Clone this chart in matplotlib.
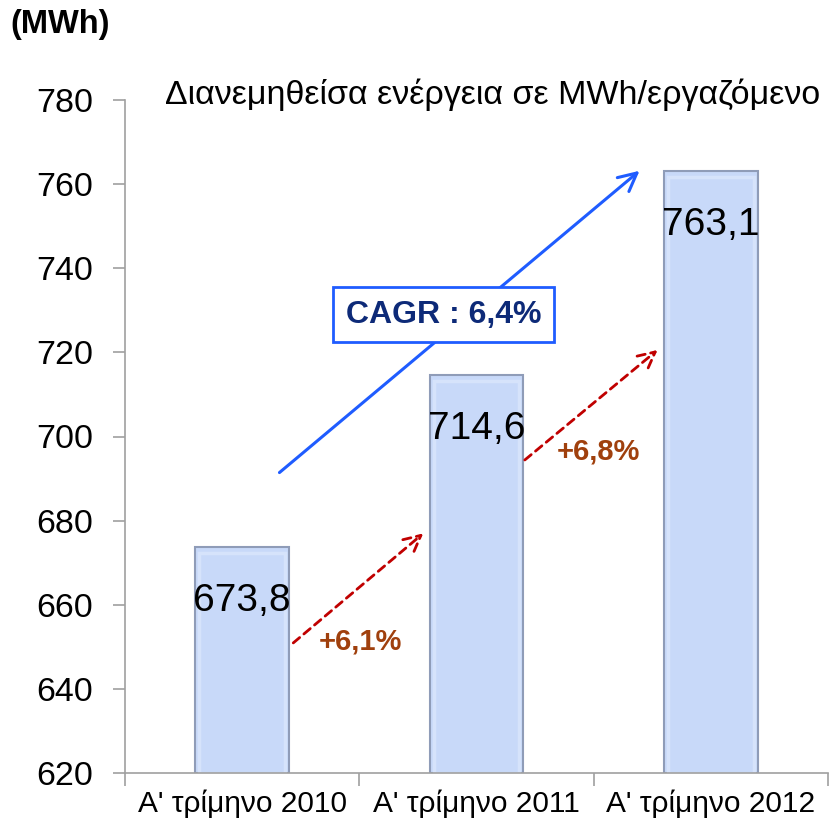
import matplotlib
matplotlib.use("Agg")
import matplotlib.pyplot as plt

plt.rcParams['font.family'] = ['Liberation Sans', 'DejaVu Sans']

# data
categories = ["Α' τρίμηνο 2010", "Α' τρίμηνο 2011", "Α' τρίμηνο 2012"]
values = [673.8, 714.6, 763.1]
value_labels = ["673,8", "714,6", "763,1"]
growth_labels = ["+6,1%", "+6,8%"]
cagr_label = "CAGR : 6,4%"
yticks = [620, 640, 660, 680, 700, 720, 740, 760, 780]

fig = plt.figure(figsize=(8.3, 8.25), dpi=100)
ax = fig.add_axes([125 / 830, 1 - 773 / 825, 703 / 830, 673 / 825])

x = list(range(len(categories)))
ax.bar(x, [v - 620 for v in values], bottom=620, width=0.40,
       color='#c8d9f9', edgecolor='#8f9cb8', linewidth=1.5, zorder=2)
# soft inner bevel
ax.bar(x, [v - 620 - 1.5 for v in values], bottom=620, width=0.365,
       color='none', edgecolor='#d6e3fb', linewidth=2.5, zorder=2)

for xi, v, lab in zip(x, values, value_labels):
    ax.annotate(lab, (xi, v), xytext=(0, -39), textcoords='offset points',
                ha='center', va='center', fontsize=28, color='black', zorder=4)

ax.set_xlim(-0.5, 2.5)
ax.set_ylim(620, 780)
ax.set_yticks(yticks)
ax.set_yticklabels([str(t) for t in yticks], fontsize=24.5)
ax.set_xticks(x)
ax.set_xticklabels(categories, fontsize=21.5)
ax.tick_params(axis='x', length=0, pad=12)
ax.set_xticks([-0.5, 0.5, 1.5, 2.5], minor=True)
ax.tick_params(axis='x', which='minor', length=9, color='#a0a0a0', width=1.2)
ax.tick_params(axis='y', length=9, color='#a0a0a0', width=1.2, pad=14)

for s in ['top', 'right']:
    ax.spines[s].set_visible(False)
for s in ['left', 'bottom']:
    ax.spines[s].set_color('#a0a0a0')
    ax.spines[s].set_linewidth(1.2)

# CAGR arrow
ax.annotate('', xy=(1.705, 763.6), xytext=(0.150, 691.0),
            arrowprops=dict(arrowstyle='->,head_length=1.3,head_width=0.65',
                            color='#1f5cff', lw=2.2), zorder=3)
ax.text(0.859, 729, cagr_label, ha='center', va='center', fontsize=23,
        fontweight='bold', color='#0d2a78', zorder=5,
        bbox=dict(boxstyle='square,pad=0.4', fc='white', ec='#1f5cff', lw=2))

# year-over-year arrows
for (x0, y0, x1, y1) in [(0.209, 650.5, 0.782, 677.4), (1.197, 694.0, 1.782, 721.0)]:
    ax.annotate('', xy=(x1, y1), xytext=(x0, y0),
                arrowprops=dict(arrowstyle='->,head_length=1.2,head_width=0.6',
                                color='#c00000', lw=2, linestyle=(0, (3, 2))),
                zorder=3)

ax.text(0.504, 651.2, growth_labels[0], ha='center', va='center', fontsize=21,
        fontweight='bold', color='#a0400d', zorder=4)
ax.text(1.521, 696.4, growth_labels[1], ha='center', va='center', fontsize=21,
        fontweight='bold', color='#a0400d', zorder=4)

fig.text(0.012, 1 - 25 / 825, "(MWh)", fontsize=23.5, fontweight='bold', va='center')
fig.text(493 / 830, 1 - 95 / 825, "Διανεμηθείσα ενέργεια σε MWh/εργαζόμενο",
         fontsize=24.5, ha='center', va='center')

fig.savefig("out.png", dpi=100)
